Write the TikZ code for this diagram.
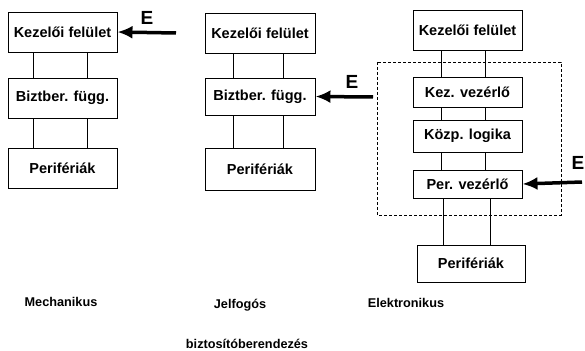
\documentclass[tikz,border=0pt]{standalone}
\usepackage{fontspec}
\setmainfont{Liberation Sans}
\usetikzlibrary{arrows.meta}

\begin{document}
\begin{tikzpicture}[x=1pt,y=-1pt,
  font=\fontsize{14.5}{16}\selectfont\bfseries,
  blokk/.style={draw,line width=0.9pt,inner sep=0pt,minimum width=109pt,minimum height=#1},
  blokk/.default=40pt,
  hatas/.style={line width=3.5pt,-{Latex[length=15pt,width=13pt]}},
  cimke/.style={font=\fontsize{12.7}{14}\selectfont\bfseries},
  betu/.style={font=\fontsize{19}{20}\selectfont\bfseries}]
\useasboundingbox (0,0) rectangle (585,350);

% mechanikus
\node[blokk] (k1) at (62.5,32) {Kezelői felület};
\node[blokk] (b1) at (62.5,98) {Biztber. függ.};
\node[blokk] (p1) at (62.5,168) {Perifériák};
\foreach \dx in {-29.5,24.5} {
  \draw[line width=0.9pt] ([xshift=\dx]k1.south) -- ([xshift=\dx]b1.north);
  \draw[line width=0.9pt] ([xshift=\dx]b1.south) -- ([xshift=\dx]p1.north);
}
\coordinate (e1) at (176,33);
\draw[hatas] (e1) -- (k1.east);
\node[betu] at (147,18) {E};

% jelfogos
\node[blokk,minimum width=110pt] (k2) at (260,33) {Kezelői felület};
\node[blokk=37pt,minimum width=110pt] (b2) at (260,96.5) {Biztber. függ.};
\node[blokk=42pt,minimum width=110pt] (p2) at (260,169) {Perifériák};
\foreach \dx in {-27,23} {
  \draw[line width=0.9pt] ([xshift=\dx]k2.south) -- ([xshift=\dx]b2.north);
  \draw[line width=0.9pt] ([xshift=\dx]b2.south) -- ([xshift=\dx]p2.north);
}
\coordinate (e2) at (373,97);
\draw[hatas] (e2) -- (b2.east);
\node[betu] at (352,82) {E};

% elektronikus
\node[blokk] (k3) at (467.5,30) {Kezelői felület};
\node[blokk=30pt] (kv) at (467.5,92) {Kez. vezérlő};
\node[blokk=32pt] (kl) at (467.5,136) {Közp. logika};
\node[blokk=28pt] (pv) at (467.5,184) {Per. vezérlő};
\node[blokk=37pt,minimum width=108pt] (p3) at (471,263.5) {Perifériák};
\foreach \dx in {-26.5,17.5} {
  \draw[line width=0.9pt] ([xshift=\dx]k3.south) -- ([xshift=\dx]kv.north);
  \draw[line width=0.9pt] ([xshift=\dx]kv.south) -- ([xshift=\dx]kl.north);
  \draw[line width=0.9pt] ([xshift=\dx]kl.south) -- ([xshift=\dx]pv.north);
}
\draw[line width=0.9pt] (443,0 |- pv.south) -- (443,0 |- p3.north);
\draw[line width=0.9pt] (490,0 |- pv.south) -- (490,0 |- p3.north);
\draw[densely dashed,line width=0.7pt] (377,62) rectangle (561,215);
\coordinate (e3) at (582,182);
\draw[hatas] (e3) -- (pv.east);
\node[betu] at (578,163) {E};

% feliratok
\node[cimke] (m) at (61,302) {Mechanikus};
\node[cimke] (j) at (240,305) {Jelfogós};
\node[cimke] (el) at (406,303) {Elektronikus};
\node[cimke] (bb) at (247,344) {biztosítóberendezés};
\end{tikzpicture}
\end{document}
